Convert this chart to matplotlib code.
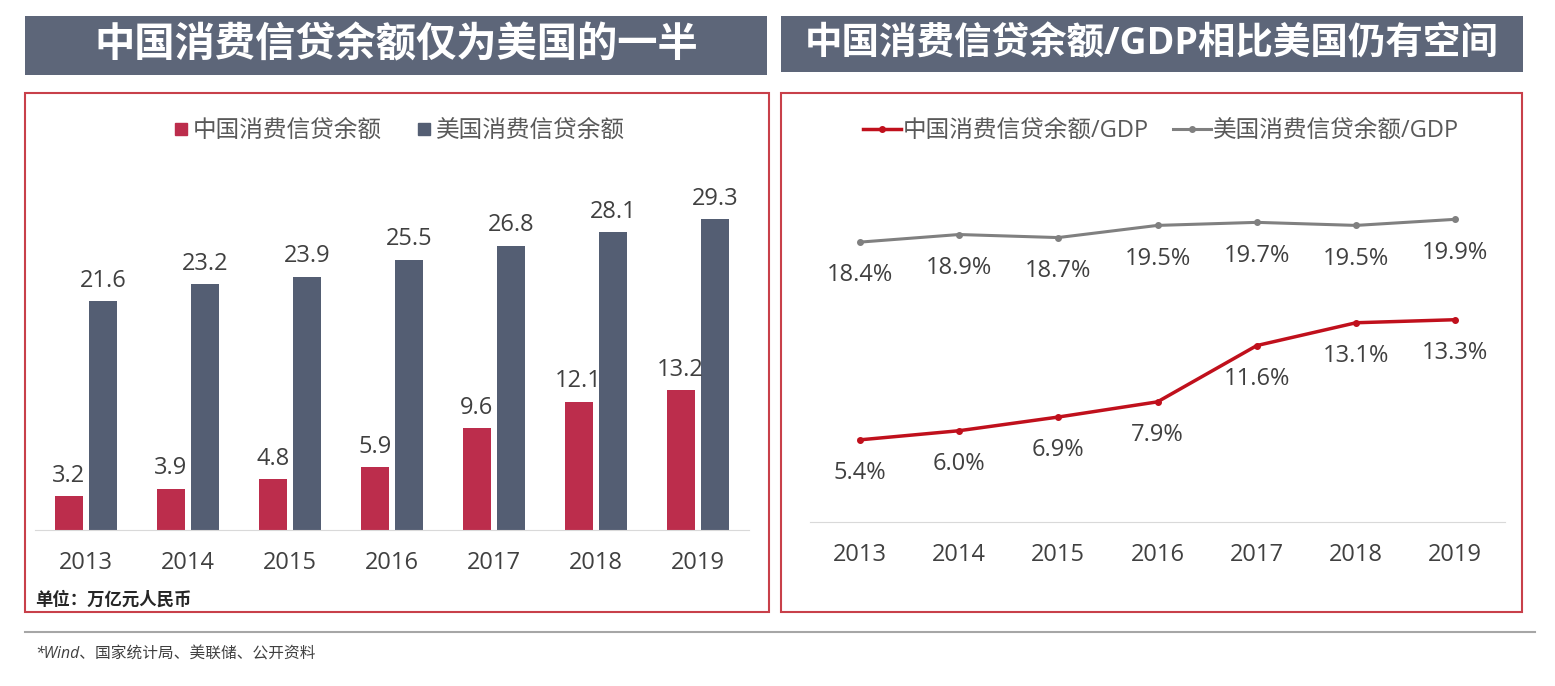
import matplotlib
matplotlib.use('Agg')
import matplotlib.pyplot as plt
from matplotlib.patches import Rectangle
from matplotlib.lines import Line2D
import numpy as np

plt.rcParams['font.family'] = ['Open Sans', 'Noto Sans CJK SC', 'DejaVu Sans']

years = ['2013', '2014', '2015', '2016', '2017', '2018', '2019']
cn_credit = [3.2, 3.9, 4.8, 5.9, 9.6, 12.1, 13.2]
us_credit = [21.6, 23.2, 23.9, 25.5, 26.8, 28.1, 29.3]
cn_ratio = [5.4, 6.0, 6.9, 7.9, 11.6, 13.1, 13.3]
us_ratio = [18.4, 18.9, 18.7, 19.5, 19.7, 19.5, 19.9]

W, H = 1555, 686
RED_BAR = '#bc2d4c'
BLUE_BAR = '#545e73'
HEAD = '#5d6679'
BORDER = '#c8404a'
TXT = '#404040'
FS = 17

fig = plt.figure(figsize=(W / 100, H / 100), dpi=100)


def box(x0, y0, x1, y1):
    return [x0 / W, 1 - y1 / H, (x1 - x0) / W, (y1 - y0) / H]


def fxy(x, y):
    return (x / W, 1 - y / H)


# title bars
for (x0, y0, x1, y1), title, fs in [((25, 16, 767, 75), '中国消费信贷余额仅为美国的一半', 29),
                                    ((781, 16, 1523, 72), '中国消费信贷余额/GDP相比美国仍有空间', 27)]:
    b = box(x0, y0, x1, y1)
    fig.patches.append(Rectangle((b[0], b[1]), b[2], b[3], transform=fig.transFigure,
                                 facecolor=HEAD, edgecolor='none'))
    fig.text(b[0] + b[2] / 2, b[1] + b[3] / 2, title, color='white', fontsize=fs,
             fontweight='bold', ha='center', va='center')

# panel borders
for x0, y0, x1, y1 in [(25, 93, 769, 612), (781, 93, 1522, 612)]:
    b = box(x0, y0, x1, y1)
    fig.patches.append(Rectangle((b[0], b[1]), b[2], b[3], transform=fig.transFigure,
                                 facecolor='none', edgecolor=BORDER, linewidth=1.5))

# left: bar chart
ax1 = fig.add_axes(box(35, 180, 749, 530))
x = np.arange(len(years))
w = 0.275
b1 = ax1.bar(x - 0.17, cn_credit, w, color=RED_BAR, label='中国消费信贷余额')
b2 = ax1.bar(x + 0.17, us_credit, w, color=BLUE_BAR, label='美国消费信贷余额')
for bars, vals in [(b1, cn_credit), (b2, us_credit)]:
    for r, v in zip(bars, vals):
        ax1.annotate(f'{v:.1f}', (r.get_x() + r.get_width() / 2, v), xytext=(0, 6),
                     textcoords='offset points', ha='center', va='bottom',
                     fontsize=FS, color=TXT)
ax1.set_xlim(-0.5, 6.5)
ax1.set_ylim(0, 33.0)
ax1.set_xticks(x)
ax1.set_xticklabels(years, fontsize=FS, color=TXT)
ax1.tick_params(axis='x', length=0, pad=15)
ax1.set_yticks([])
for s in ['top', 'left', 'right']:
    ax1.spines[s].set_visible(False)
ax1.spines['bottom'].set_color('#d9d9d9')
ax1.patch.set_alpha(0)

h1 = [Line2D([], [], marker='s', linestyle='none', markersize=9, color=RED_BAR),
      Line2D([], [], marker='s', linestyle='none', markersize=9, color=BLUE_BAR)]
fig.legend(h1, ['中国消费信贷余额', '美国消费信贷余额'], loc='center',
           bbox_to_anchor=fxy(398, 131), ncol=2, frameon=False, fontsize=FS,
           labelcolor='#595959', handletextpad=0.1, columnspacing=1.4, handlelength=0.8)

fig.text(35 / W, 1 - 600 / H, '单位：万亿元人民币', fontsize=12.5, fontstyle='italic',
         fontweight='bold', color='#262626', va='center')

# right: line chart
ax2 = fig.add_axes(box(810, 160, 1505, 522))
ax2.plot(x, cn_ratio, color='#c0101c', linewidth=2.5, marker='o', markersize=4,
         label='中国消费信贷余额/GDP')
ax2.plot(x, us_ratio, color='#808080', linewidth=2.2, marker='o', markersize=4,
         label='美国消费信贷余额/GDP')
for vals in [cn_ratio, us_ratio]:
    for i, v in enumerate(vals):
        ax2.annotate(f'{v:.1f}%', (i, v), xytext=(0, -24), textcoords='offset points',
                     ha='center', va='center', fontsize=FS, color=TXT)
ax2.set_xlim(-0.5, 6.5)
ax2.set_ylim(0, 23.8)
ax2.set_xticks(x)
ax2.set_xticklabels(years, fontsize=FS, color=TXT)
ax2.tick_params(axis='x', length=0, pad=15)
ax2.set_yticks([])
for s in ['top', 'left', 'right']:
    ax2.spines[s].set_visible(False)
ax2.spines['bottom'].set_color('#d9d9d9')
ax2.patch.set_alpha(0)

h2 = [Line2D([], [], color='#c0101c', linewidth=2.5, marker='o', markersize=4),
      Line2D([], [], color='#808080', linewidth=2.2, marker='o', markersize=4)]
fig.legend(h2, ['中国消费信贷余额/GDP', '美国消费信贷余额/GDP'], loc='center',
           bbox_to_anchor=fxy(1161, 131), ncol=2, frameon=False, fontsize=FS,
           labelcolor='#595959', handletextpad=0.1, columnspacing=1.0, handlelength=1.6)

# footer
fig.add_artist(Line2D([25 / W, 1535 / W], [1 - 632 / H, 1 - 632 / H],
                      transform=fig.transFigure, color='#a6a6a6', linewidth=1.5))
fig.text(35 / W, 1 - 655 / H, '*Wind、国家统计局、美联储、公开资料', fontsize=11.3,
         fontstyle='italic', color='#404040', va='center')

fig.savefig('out.png', dpi=100)
